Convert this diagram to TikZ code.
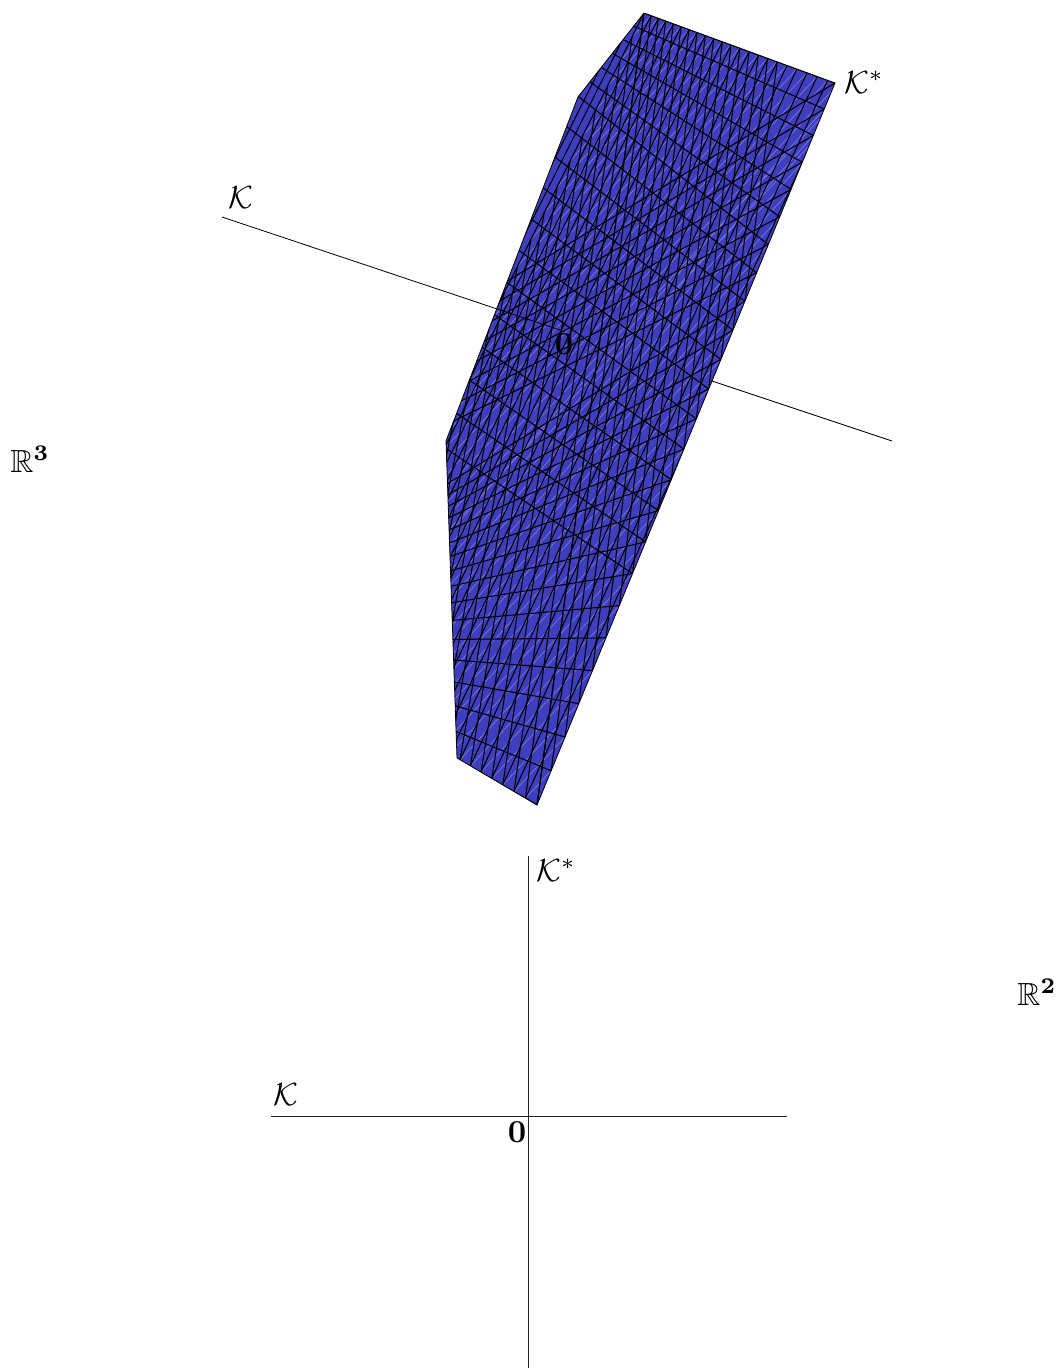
\documentclass[tikz,border=0pt]{standalone}
\usepackage{amsmath}
\usepackage{amssymb}
\usepackage{tikz}
\definecolor{sheetblue}{RGB}{62,62,190}
\definecolor{seamblue}{RGB}{125,125,225}

\begin{document}
\begin{tikzpicture}[
  x=1pt, y=-1pt,
  meshline/.style={black, line width=1.05pt},
  seamline/.style={seamblue, line width=0.6pt},
  axisline/.style={black!85, line width=0.8pt},
  lab/.style={scale=3.2, inner sep=0pt},
  declare function={
    ry(\i)=83+25.9*\i+0.174*\i*\i;
    rx(\i)=835-(ry(\i)-83)*0.4127;
    tx(\j)=644+7*\j+0.083*\j*\j;
    ty(\j)=13+(tx(\j)-644)*0.3665;
    bx(\j)=537-(11.8*(24-\j)-0.1*(24-\j)*(25-\j));
    by(\j)=805-0.5875*(537-bx(\j));
    ff(\i)=(ry(\i)-83)/722;
    vx(\i,\j)=tx(\j)+ff(\i)*(bx(\j)-tx(\j));
    vy(\i,\j)=ty(\j)+ff(\i)*(by(\j)-ty(\j));
    rowslope(\i)=\i<=6 ? 0.3665+0.069*\i : 0.78-0.01*(\i-6);
    lefty(\k)=\k<=16 ? 759-28.6*\k+1.04*\k*\k-0.0205*\k*\k*\k : 441-20*(\k-16);
    leftx(\k)=\k<=16 ? 457-11*(759-lefty(\k))/318 : 446+(441-lefty(\k))*0.3837;
  }
]
\useasboundingbox (0,0) rectangle (1057,1370);

% Axes
\coordinate (kleft) at (222,217);
\coordinate (korigin) at (560,330);
\coordinate (kexit) at (712,381);
\coordinate (kright) at (892,441);
\coordinate (kstartop) at (528,856);
\coordinate (kstarbot) at (528,1368);
\coordinate (kbleft) at (271,1116);
\coordinate (kbright) at (787,1116);

% Sheet
\fill[sheetblue] (644,13) -- (835,83) -- (537,805) -- (457,758) -- (446,441) -- (578,97) -- cycle;
\begin{scope}
  \clip (644,13) -- (835,83) -- (537,805) -- (457,758) -- (446,441) -- (578,97) -- cycle;
  % seams
  \foreach \e in {1,...,24} {
    \draw[seamline] ({tx(\e)},{ty(\e)}) -- ({vx(\e,0)},{vy(\e,0)});
    \draw[seamline] ({rx(\e)},{ry(\e)}) -- ({bx(\e)},{by(\e)});
  }
  % rows from the upper left
  \foreach \i in {0,...,17} {
    \draw[meshline] ({rx(\i)},{ry(\i)}) -- ({rx(\i)-400},{ry(\i)-400*rowslope(\i)});
  }
  % rows from the lower left
  \foreach \k in {0,...,24} {
    \draw[meshline] ({leftx(\k)},{lefty(\k)}) -- ({rx(24-\k)},{ry(24-\k)});
  }
  % steep lines
  \foreach \j in {-7,...,24} {
    \draw[meshline] ({tx(\j)},{ty(\j)}) -- ({bx(\j)},{by(\j)});
  }
  \foreach \j in {0,...,16} {
    \draw[meshline] ({vx(\j,0)},{vy(\j,0)}) -- ({bx(24-\j)},{by(24-\j)});
    \draw[meshline] ({tx(\j)},{ty(\j)}) -- ({rx(24-\j)},{ry(24-\j)});
  }
\end{scope}
\draw[black, line width=0.8pt] (644,13) -- (835,83) -- (537,805) -- (457,758) -- (446,441) -- (578,97) -- cycle;

\draw[axisline, black] (kleft) -- (korigin);
\draw[axisline, black] (kexit) -- (kright);
\draw[axisline] (kstartop) -- (kstarbot);
\draw[axisline] (kbleft) -- (kbright);

% Labels
\node[lab] (kone) at (241,198) {$\mathcal{K}$};
\node[lab] (kstarone) at (864,82) {$\mathcal{K}^*$};
\node[lab] (zeroone) at (564,344) {$\mathbf{0}$};
\node[lab] (rthree) at (30,459) {$\mathbb{R}^{\mathbf{3}}$};
\node[lab] (ktwo) at (286,1095) {$\mathcal{K}$};
\node[lab] (kstartwo) at (556,870) {$\mathcal{K}^*$};
\node[lab] (zerotwo) at (517,1132) {$\mathbf{0}$};
\node[lab] (rtwo) at (1037,992) {$\mathbb{R}^{\mathbf{2}}$};
\end{tikzpicture}
\end{document}
